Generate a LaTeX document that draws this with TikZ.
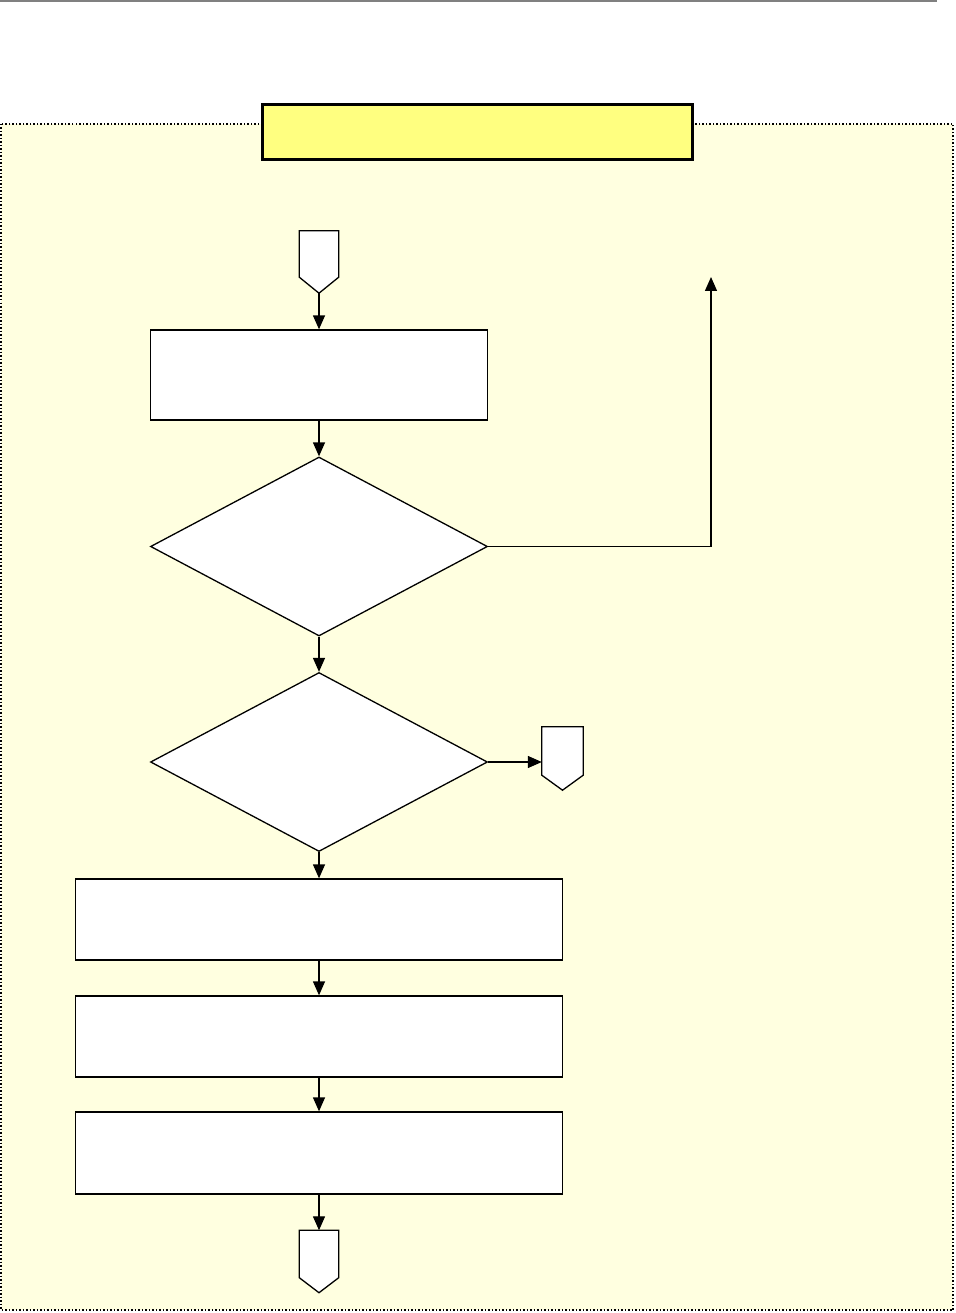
\documentclass[tikz,border=0pt]{standalone}
\usetikzlibrary{arrows.meta,shapes.geometric}
\definecolor{framefill}{HTML}{FFFFE0}
\definecolor{titlefill}{HTML}{FFFF80}
\tikzset{
  stepbox/.style={draw=black, fill=white, line width=1.3pt, rectangle, inner sep=0pt},
  decbox/.style={draw=black, fill=white, line width=1.3pt, diamond, inner sep=0pt, minimum width=337pt, minimum height=179pt},
  connbox/.style={draw=none, rectangle, inner sep=0pt, minimum width=39pt, minimum height=62pt},
  connshape/.style={draw=black, fill=white, line width=1.3pt, line join=miter},
  flow/.style={line width=1.3pt, -{Triangle[length=14pt,width=12pt]}},
}
\begin{document}
\begin{tikzpicture}[x=1pt,y=-1pt]
\useasboundingbox (0,0) rectangle (955,1313);
% top rule
\draw[gray, line width=1.5pt] (0,1) -- (937,1);
% frame
\draw[fill=framefill, draw=black, dotted, line width=1.5pt] (1,124) rectangle (953,1310);
% title box
\node[draw=black, fill=titlefill, line width=3pt, rectangle, inner sep=0pt, minimum width=430pt, minimum height=55pt] (title) at (477,132.5) {};
% start connector
\node[connbox] (c1) at (319,262) {};
\draw[connshape] (c1.north west) -- (c1.north east) -- ([yshift=16pt]c1.south east) -- (c1.south) -- ([yshift=16pt]c1.south west) -- cycle;
% box1
\node[stepbox, minimum width=337pt, minimum height=90pt] (b1) at (319,375) {};
% decisions
\node[decbox] (d1) at (319,546.5) {};
\node[decbox] (d2) at (319,762) {};
% right connector
\node[connbox, minimum width=41pt, minimum height=63pt] (c2) at (562.5,758.5) {};
\draw[connshape] (c2.north west) -- (c2.north east) -- ([yshift=15pt]c2.south east) -- (c2.south) -- ([yshift=15pt]c2.south west) -- cycle;
% boxes
\node[stepbox, minimum width=487pt, minimum height=81pt] (b2) at (319,919.5) {};
\node[stepbox, minimum width=487pt, minimum height=81pt] (b3) at (319,1036.5) {};
\node[stepbox, minimum width=487pt, minimum height=82pt] (b4) at (319,1153) {};
% bottom connector
\node[connbox] (c3) at (319,1261.5) {};
\draw[connshape] (c3.north west) -- (c3.north east) -- ([yshift=15pt]c3.south east) -- (c3.south) -- ([yshift=15pt]c3.south west) -- cycle;
% up-arrow end
\coordinate (up) at (711,277);
% connectors
\draw[flow] (c1.south) -- (b1.north);
\draw[flow] (b1.south) -- (d1.north);
\draw[flow] (d1.south) -- (d2.north);
\draw[flow] (d2.south) -- (b2.north);
\draw[flow] (b2.south) -- (b3.north);
\draw[flow] (b3.south) -- (b4.north);
\draw[flow] (b4.south) -- (c3.north);
\draw[flow] (d2.east) -- (c2.west |- d2.east);
\draw[flow] (d1.east) -| (up);
\end{tikzpicture}
\end{document}
